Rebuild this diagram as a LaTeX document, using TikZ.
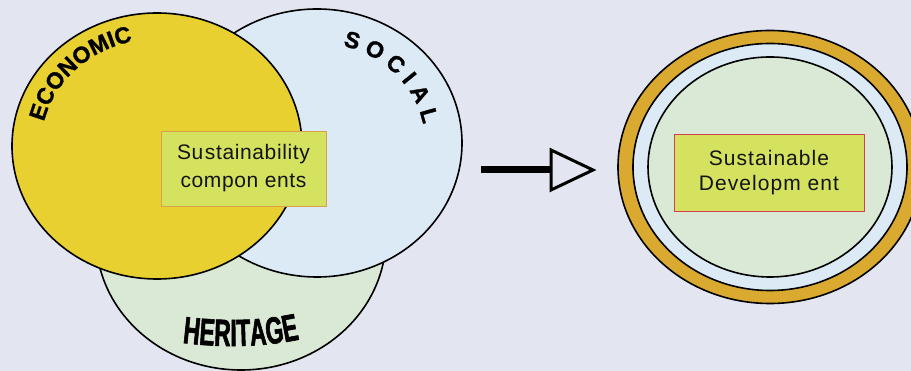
\documentclass[tikz,border=0pt]{standalone}
\usepackage{fontspec}
\setmainfont{Liberation Sans}
\newfontfamily\herfont[FakeStretch=0.6, FakeBold=1.5]{Liberation Sans Bold}
\newfontfamily\heavyfont[FakeBold=1.2]{Liberation Sans Bold}
\usetikzlibrary{shapes.geometric,decorations.text}
\definecolor{bg}{RGB}{227,230,240}
\definecolor{eco}{RGB}{232,208,48}
\definecolor{soc}{RGB}{220,234,246}
\definecolor{her}{RGB}{218,232,214}
\definecolor{boxfill}{RGB}{212,226,96}
\definecolor{ring}{RGB}{218,170,48}
\definecolor{boxedgeA}{RGB}{216,160,72}
\definecolor{boxedgeB}{RGB}{210,64,80}
\definecolor{ink}{RGB}{20,20,20}
\begin{document}
\begin{tikzpicture}[x=1pt,y=1pt,
  blob/.style={ellipse, draw=black, line width=1.6pt, inner sep=0pt},
  labelbox/.style={draw, line width=0.9pt, inner sep=0pt, align=center, text=ink},
  arctext/.style={decorate, decoration={text along path, text align=center, text={#1}}}]
\fill[bg] (0,0) rectangle (911,371);
\useasboundingbox (0,0) rectangle (911,371);
\clip (0,0) rectangle (911,371);

% Venn of components
\node[blob, fill=her, minimum width=290pt, minimum height=266pt] (heritage) at (241,134) {};
\node[blob, fill=soc, minimum width=290pt, minimum height=268pt] (social) at (317,228) {};
\node[blob, fill=eco, minimum width=290pt, minimum height=266pt] (economic) at (157,225) {};

\path[arctext={|\heavyfont\fontsize{23}{23}\selectfont|ECONOMIC}]
  ([shift={(180:116pt and 107pt)}]economic.center)
  arc[start angle=180, end angle=90, x radius=116pt, y radius=107pt];
\path[arctext={|\heavyfont\fontsize{23}{23}\selectfont|S O C I A L}]
  ([shift={(88:108pt and 100pt)}]social.center)
  arc[start angle=88, end angle=-2, x radius=108pt, y radius=100pt];

\coordinate (hl) at (176,29);
\coordinate (hc1) at (218,23);
\coordinate (hc2) at (264,23);
\coordinate (hr) at (306,33);
\path[arctext={|\herfont\fontsize{38}{38}\selectfont|HERITAGE}]
  (hl) .. controls (hc1) and (hc2) .. (hr);

\node[labelbox, draw=boxedgeA, fill=boxfill, minimum width=165pt, minimum height=75pt,
  font={\fontsize{21}{28}\selectfont\addfontfeature{LetterSpace=3}}]
  (components) at (243.5,202.5) {Su\hspace{1.5pt}stainability\\compon ents};

% Arrow
\coordinate (arrowtail) at (481,201);
\coordinate (tipback) at (552,201);
\coordinate (tipA) at (551,221);
\coordinate (tipB) at (593,201);
\coordinate (tipC) at (551,181);
\draw[line width=7pt] (arrowtail) -- (tipback);
\draw[line width=3pt, fill=bg, line join=miter] (tipA) -- (tipB) -- (tipC) -- cycle;

% Sustainable development
\node[blob, fill=ring, minimum width=304pt, minimum height=273pt] (outer) at (770,204) {};
\node[blob, fill=soc, minimum width=274pt, minimum height=247pt] (middle) at (770,204) {};
\node[blob, fill=her, minimum width=244pt, minimum height=220pt] (inner) at (770,204) {};
\node[labelbox, draw=boxedgeB, fill=boxfill, minimum width=190pt, minimum height=77pt,
  font={\fontsize{21}{25.5}\selectfont\addfontfeature{LetterSpace=5}}]
  (sd) at (769,198.5) {Su\hspace{1pt}stainable\\Developm ent};
\end{tikzpicture}
\end{document}
